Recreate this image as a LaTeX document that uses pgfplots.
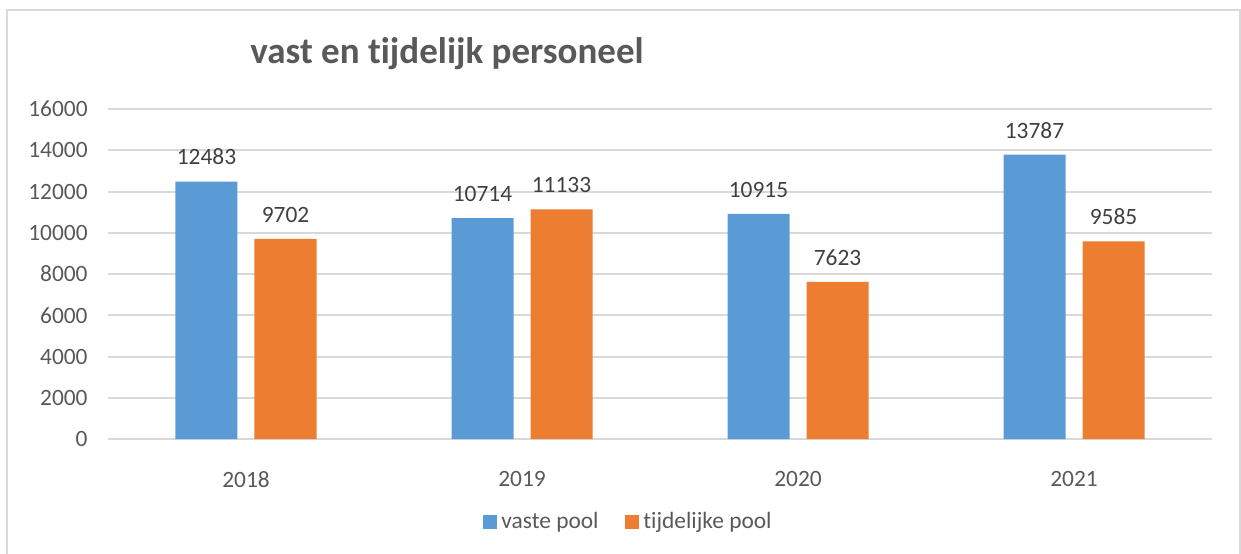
\documentclass[border=0pt]{standalone}
\usepackage{fontspec}
\setmainfont{Carlito}[Ligatures={NoCommon}]
\usepackage{pgfplots}
\pgfplotsset{compat=1.18}
\definecolor{cblue}{HTML}{5B9BD5}
\definecolor{corange}{HTML}{ED7D31}
\definecolor{cgrid}{HTML}{D9D9D9}
\definecolor{ctxt}{HTML}{595959}
\definecolor{clab}{HTML}{404040}
\begin{document}
\begin{tikzpicture}
\useasboundingbox (-54pt,-57pt) rectangle (566.5pt,219.5pt);
\draw[cgrid, line width=1pt] (-50.5pt,-80pt) rectangle (566pt,214.5pt);
\begin{axis}[
  scale only axis,
  width=552pt, height=165pt,
  xmin=-0.5, xmax=3.5,
  ymin=0, ymax=16000,
  enlargelimits=false,
  ybar=8.5pt,
  bar width=31pt,
  xtick=data,
  xticklabels={2018,2019,2020,2021},
  ytick={0,2000,...,16000},
  scaled y ticks=false,
  /pgf/number format/1000 sep={},
  /pgf/number format/assume math mode=true,
  axis line style={draw=none},
  tick style={draw=none},
  ymajorgrids,
  major grid style={cgrid, line width=1pt},
  ticklabel style={font=\fontsize{11.7}{14}\selectfont, text=ctxt},
  xticklabel style={inner sep=0pt, anchor=north, yshift=-11.75pt},
  yticklabel style={inner sep=0pt, anchor=east, xshift=-10pt},
  nodes near coords,
  every node near coord/.append style={font=\fontsize{11.7}{14}\selectfont, text=clab, inner sep=0pt, anchor=south, yshift=8pt},
  title={vast en tijdelijk personeel},
  title style={at={(0.3071,1.1303)}, anchor=center, font=\fontsize{18.5}{22}\selectfont\bfseries, text=ctxt},
  legend columns=2,
  legend style={at={(0.4724,-0.2515)}, anchor=center, draw=none, fill=none,
    font=\fontsize{11.7}{14}\selectfont, text=ctxt,
    /tikz/every even column/.append style={column sep=11pt},
    nodes={inner sep=2.2pt}},
  legend image code/.code={\fill[#1] (0pt,-3.5pt) rectangle (7pt,3.5pt);},
]
\addplot[fill=cblue, draw=none] coordinates {(0,12483) (1,10714) (2,10915) (3,13787)};
\addplot[fill=corange, draw=none] coordinates {(0,9702) (1,11133) (2,7623) (3,9585)};
\legend{vaste pool, tijdelijke pool}
\end{axis}
\end{tikzpicture}
\end{document}
